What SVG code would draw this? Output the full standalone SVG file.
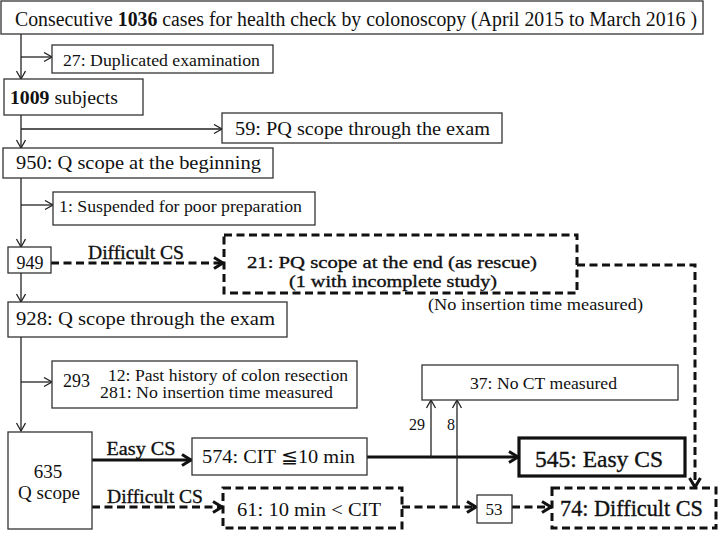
<svg xmlns="http://www.w3.org/2000/svg" width="718" height="533" viewBox="0 0 718 533" font-family="'Liberation Serif', 'DejaVu Serif', 'Times New Roman', serif">
<style>
text{fill:#111}
.box{fill:#fff;stroke:#333;stroke-width:1.3}
.thickbox{fill:#fff;stroke:#111;stroke-width:3.2}
.dbox{fill:#fff;stroke:#111;stroke-width:3;stroke-dasharray:8 4.5}
.thin{fill:none;stroke:#222;stroke-width:1.3;marker-end:url(#ah)}
.thick{fill:none;stroke:#111;stroke-width:3;marker-end:url(#ahb)}
.dash{fill:none;stroke:#111;stroke-width:3;stroke-dasharray:8 4.5;marker-end:url(#ahb)}
.semi{stroke:#111;stroke-width:0.35}
</style>
<defs>
<marker id="ah" markerUnits="userSpaceOnUse" markerWidth="12" markerHeight="12" refX="9" refY="5" orient="auto">
<path d="M1,0.5 L9,5 L1,9.5" fill="none" stroke="#222" stroke-width="1.3"/>
</marker>
<marker id="ahb" markerUnits="userSpaceOnUse" markerWidth="16" markerHeight="16" refX="12" refY="7" orient="auto">
<path d="M2,1.5 L11,7 L2,12.5" fill="none" stroke="#111" stroke-width="3"/>
</marker>
</defs>

<g id="connectors">
<path class="thin" d="M21,34 V79"/>
<path class="thin" d="M21,57 H52"/>
<path class="thin" d="M21,115 V148"/>
<path class="thin" d="M21,129 H222"/>
<path class="thin" d="M21,178 V247"/>
<path class="thin" d="M21,205 H53"/>
<path class="thin" d="M21,273 V302"/>
<path class="dash" d="M51,263 H224"/>
<path class="dash" d="M577,265 H695 V488"/>
<path class="thin" d="M21,337 V431"/>
<path class="thin" d="M21,382 H52"/>
<path class="thick" d="M92,460 H192"/>
<path class="dash" d="M92,507 H223"/>
<path class="thick" d="M367,457 H519"/>
<path class="thin" d="M431,457 V400"/>
<path class="thin" d="M457,507 V400"/>
<path class="dash" d="M402,507 H477"/>
<path class="dash" d="M512,507 H552"/>
<text x="417" y="430" font-size="16" text-anchor="middle">29</text>
<text x="451" y="430" font-size="16" text-anchor="middle">8</text>
<text x="136" y="259" font-size="19" text-anchor="middle" class="semi" textLength="96" lengthAdjust="spacingAndGlyphs">Difficult CS</text>
<text x="141" y="455" font-size="19" text-anchor="middle" class="semi" textLength="69" lengthAdjust="spacingAndGlyphs">Easy CS</text>
<text x="155" y="503" font-size="19" text-anchor="middle" class="semi" textLength="96" lengthAdjust="spacingAndGlyphs">Difficult CS</text>
<text x="428" y="310" font-size="16" textLength="215" lengthAdjust="spacingAndGlyphs">(No insertion time measured)</text>
</g>

<g id="n-top">
<rect class="box" x="1" y="1" width="702" height="33"/>
<text x="15" y="26" font-size="20" textLength="682" lengthAdjust="spacingAndGlyphs">Consecutive <tspan font-weight="bold">1036</tspan> cases for health check by colonoscopy (April 2015 to March 2016 )</text>
</g>

<g id="n-27">
<rect class="box" x="52" y="45" width="221" height="28"/>
<text x="63" y="66" font-size="16" textLength="197" lengthAdjust="spacingAndGlyphs">27: Duplicated examination</text>
</g>

<g id="n-1009">
<rect class="box" x="4" y="79" width="139" height="36"/>
<text x="10" y="104" font-size="19" textLength="108" lengthAdjust="spacingAndGlyphs"><tspan font-weight="bold">1009</tspan> subjects</text>
</g>

<g id="n-59">
<rect class="box" x="222" y="113" width="280" height="30"/>
<text x="235" y="135" font-size="19" textLength="255" lengthAdjust="spacingAndGlyphs">59: PQ scope through the exam</text>
</g>

<g id="n-950">
<rect class="box" x="3" y="148" width="270" height="30"/>
<text x="16" y="169" font-size="19" textLength="245" lengthAdjust="spacingAndGlyphs">950:  Q scope at the beginning</text>
</g>

<g id="n-1">
<rect class="box" x="53" y="192" width="262" height="33"/>
<text x="59" y="212" font-size="16" textLength="243" lengthAdjust="spacingAndGlyphs">1: Suspended for poor preparation</text>
</g>

<g id="n-949">
<rect class="box" x="8" y="247" width="43" height="26"/>
<text x="30" y="269" font-size="18" text-anchor="middle">949</text>
</g>

<g id="n-21">
<rect class="dbox" x="224" y="235" width="353" height="58"/>
<text x="247" y="268" font-size="17" class="semi" textLength="290" lengthAdjust="spacingAndGlyphs">21:  PQ scope at the end (as rescue)</text>
<text x="289" y="287" font-size="17" class="semi" textLength="208" lengthAdjust="spacingAndGlyphs">(1 with incomplete study)</text>
</g>

<g id="n-928">
<rect class="box" x="8" y="302" width="279" height="35"/>
<text x="16" y="325" font-size="19" textLength="259" lengthAdjust="spacingAndGlyphs">928:  Q scope through the exam</text>
</g>

<g id="n-293">
<rect class="box" x="52" y="361" width="305" height="47"/>
<text x="63" y="387" font-size="18" textLength="27" lengthAdjust="spacingAndGlyphs">293</text>
<text x="108" y="381" font-size="16" textLength="240" lengthAdjust="spacingAndGlyphs">12: Past history of colon resection</text>
<text x="100" y="398" font-size="16" textLength="233" lengthAdjust="spacingAndGlyphs">281: No insertion time measured</text>
</g>

<g id="n-37">
<rect class="box" x="422" y="365" width="256" height="35"/>
<text x="470" y="389" font-size="16" textLength="147" lengthAdjust="spacingAndGlyphs">37: No CT measured</text>
</g>

<g id="n-635">
<rect class="box" x="8" y="432" width="84" height="97"/>
<text x="48" y="478" font-size="19" text-anchor="middle">635</text>
<text x="49" y="499" font-size="19" text-anchor="middle" textLength="62" lengthAdjust="spacingAndGlyphs">Q scope</text>
</g>

<g id="n-574">
<rect class="box" x="192" y="438" width="175" height="37"/>
<text x="202" y="463" font-size="19" textLength="153" lengthAdjust="spacingAndGlyphs">574:  CIT ≦10 min</text>
</g>

<g id="n-545">
<rect class="thickbox" x="519" y="438" width="166" height="38"/>
<text x="535" y="467" font-size="23" class="semi" textLength="128" lengthAdjust="spacingAndGlyphs">545:  Easy CS</text>
</g>

<g id="n-61">
<rect class="dbox" x="223" y="488" width="179" height="40"/>
<text x="237" y="516" font-size="19" textLength="144" lengthAdjust="spacingAndGlyphs">61:  10 min &lt; CIT</text>
</g>

<g id="n-53">
<rect class="box" x="477" y="495" width="35" height="28"/>
<text x="494" y="515" font-size="17" text-anchor="middle">53</text>
</g>

<g id="n-74">
<rect class="dbox" x="552" y="488" width="164" height="40"/>
<text x="560" y="516" font-size="23" class="semi" textLength="143" lengthAdjust="spacingAndGlyphs">74: Difficult CS</text>
</g>
</svg>
